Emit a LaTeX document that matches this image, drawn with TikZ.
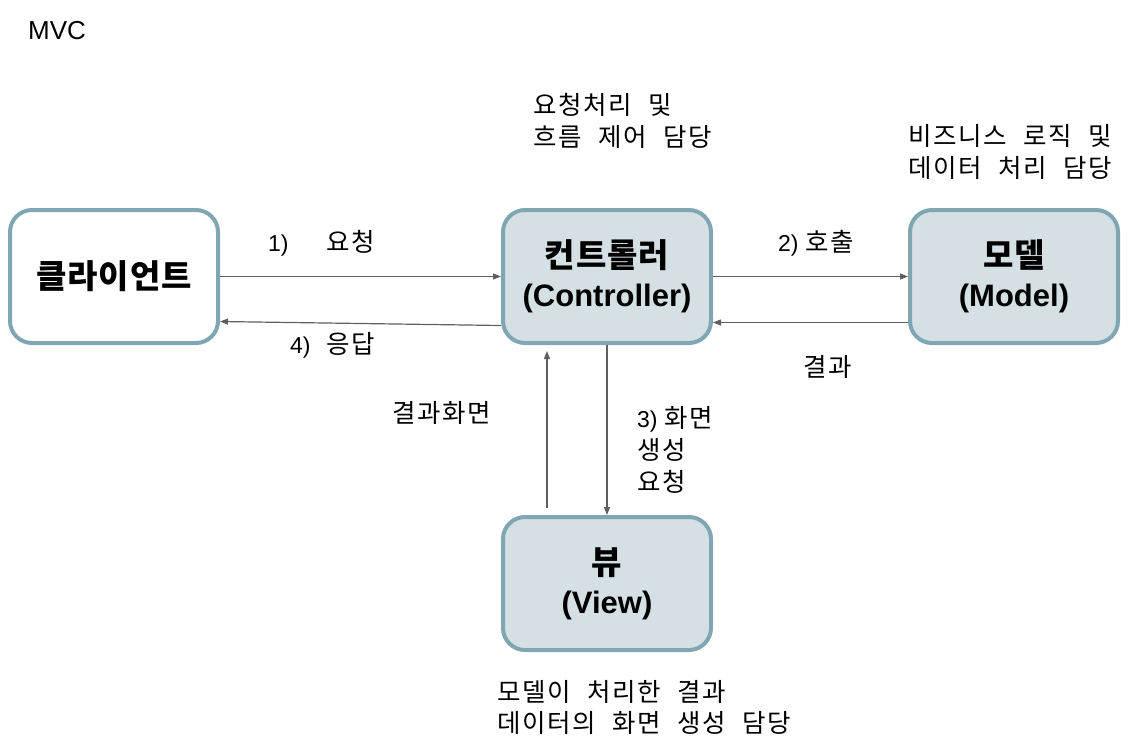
\documentclass[tikz,border=0pt]{standalone}
\usepackage{fontspec}
\setmainfont{Liberation Sans}
\newfontfamily\kr{Noto Sans CJK KR}[WordSpace=2.3,LetterSpace=6]
\newfontfamily\krb{Noto Sans CJK KR}[LetterSpace=3]
\usetikzlibrary{arrows.meta}
\definecolor{bordc}{RGB}{127,166,178}
\definecolor{boxfill}{RGB}{213,224,228}
\definecolor{arrc}{RGB}{95,95,95}
\begin{document}
\begin{tikzpicture}[x=1pt,y=-1pt,
  box/.style={draw=bordc, line width=4pt, rounded corners=22pt, minimum width=208pt,
    minimum height=133pt, align=center, inner sep=0pt,
    font=\fontsize{31}{39}\selectfont\bfseries},
  lbl/.style={anchor=west, inner sep=0pt, align=left, font=\fontsize{23}{32}\selectfont},
  krlbl/.style={lbl, font=\fontsize{25.5}{31.5}\selectfont\kr},
  conn/.style={draw=arrc, line width=1.2pt, -{Triangle[length=8pt,width=6pt]}}
]
\useasboundingbox (0,0) rectangle (1144,750);
\node[lbl, font=\fontsize{26}{28}\selectfont] (title) at (28,31) {MVC};

\node[box, fill=white] (client) at (114,276.5) {{\krb\fontsize{33}{39}\selectfont 클라이언트}};
\node[box, fill=boxfill] (ctrl) at (607,276.5) {{\krb\fontsize{33}{39}\selectfont 컨트롤러}\\(Controller)};
\node[box, fill=boxfill] (model) at (1014,276.5) {{\krb\fontsize{33}{39}\selectfont 모델}\\(Model)};
\node[box, fill=boxfill] (view) at (607,583.5) {{\krb\fontsize{33}{39}\selectfont 뷰}\\(View)};

\node[krlbl] (ctrldesc) at (533,121) {요청처리 및\\흐름 제어 담당};
\node[krlbl] (modeldesc) at (908,152) {비즈니스 로직 및\\데이터 처리 담당};
\node[krlbl] (viewdesc) at (497,707.5) {모델이 처리한 결과\\데이터의 화면 생성 담당};

\node[lbl] (l1) at (268,243) {1)\hspace{38pt}{\kr\fontsize{25.5}{32}\selectfont 요청}};
\node[lbl] (l2) at (778,243) {2) {\kr\fontsize{25.5}{32}\selectfont 호출}};
\node[lbl] (l4) at (290,345) {4)\hspace{16pt}{\kr\fontsize{25.5}{32}\selectfont 응답}};
\node[krlbl] (lres) at (803,367) {결과};
\node[krlbl] (lresv) at (392,413) {결과화면};
\node[lbl] (l3) at (637,450) {3) {\kr\fontsize{25.5}{32}\selectfont 화면}\\{\kr\fontsize{25.5}{32}\selectfont 생성}\\{\kr\fontsize{25.5}{32}\selectfont 요청}};

\draw[conn] (client.east) -- (ctrl.west);
\draw[conn] ([yshift=-49pt]ctrl.west) -- ([yshift=-45pt]client.east);
\draw[conn] (ctrl.east) -- (model.west);
\draw[conn] ([yshift=-46pt]model.west) -- ([yshift=-46pt]ctrl.east);
\draw[conn] (ctrl.south) -- (view.north);
\draw[conn] ([xshift=-60pt,yshift=7pt]view.north) -- ([xshift=-60pt,yshift=-6pt]ctrl.south);
\end{tikzpicture}
\end{document}
